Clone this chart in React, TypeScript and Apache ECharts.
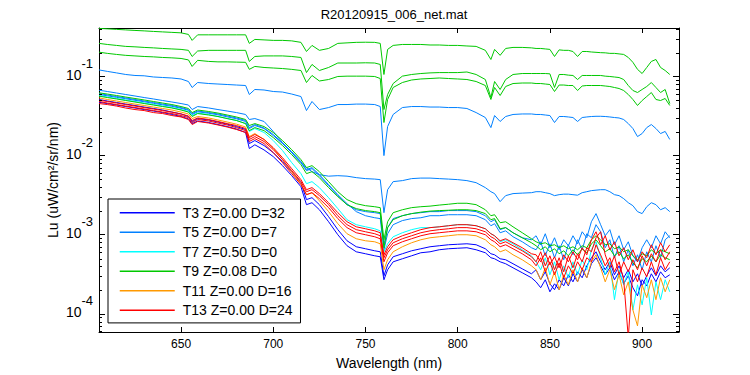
import React, { useEffect, useRef } from "react";
import * as echarts from "echarts";

const FONT = "Liberation Sans, Arial, Helvetica, sans-serif";
const TITLE = "R20120915_006_net.mat";
const X_NAME = "Wavelength (nm)";
const Y_NAME = "Lu (uW/cm²/sr/nm)";
const X_MIN = 605.5;
const X_MAX = 920;
const Y_MIN = 5.9e-5;
const Y_MAX = 0.41;
const X_LABEL_STEP = 50;

const NAMES = ["T3 Z=0.00 D=32", "T5 Z=0.00 D=7", "T7 Z=0.50 D=0", "T9 Z=0.08 D=0", "T11 Z=0.00 D=16", "T13 Z=0.00 D=24"];
const COLORS = ["#0000ff", "#0080ff", "#00ffff", "#00c800", "#ff9900", "#ff0000"];

const MINOR_TICKS = [
  6e-5, 7e-5, 8e-5, 9e-5,
  2e-4, 3e-4, 4e-4, 5e-4, 6e-4, 7e-4, 8e-4, 9e-4,
  2e-3, 3e-3, 4e-3, 5e-3, 6e-3, 7e-3, 8e-3, 9e-3,
  2e-2, 3e-2, 4e-2, 5e-2, 6e-2, 7e-2, 8e-2, 9e-2,
  2e-1, 3e-1, 4e-1,
];

const WAVELENGTHS = [
  605.5, 610, 615, 620, 625, 630, 635, 640, 645, 650,
  654, 656, 659, 665, 670, 675, 680, 685, 687, 690, 695, 700,
  705, 710, 715, 718, 721, 725, 730, 735, 740, 745, 750, 755, 758, 760, 762, 765,
  770, 775, 780, 785, 790, 795, 800, 805, 810, 815,
  818, 820, 823, 826, 830, 835, 840,
  842.5, 845, 847.5, 850, 852.5, 855, 857.5, 860, 862.5, 865, 867.5, 870, 872.5, 875, 877.5,
  880, 882.5, 885, 887.5, 890, 892.5, 895, 897.5, 900, 902.5, 905, 907.5, 910, 912.5, 915,
];

// T3 (blue)
const T3_A = [
  0.0472, 0.0455, 0.0436, 0.0417, 0.0400, 0.0382, 0.0366, 0.0350, 0.0331, 0.0312,
  0.0291, 0.0254, 0.0274, 0.0262, 0.0247, 0.0233, 0.0217, 0.0196, 0.0123, 0.0137, 0.0118, 0.00971,
  0.00747, 0.00558, 0.00405, 0.00240, 0.00254, 0.00207, 0.00146, 0.00100, 0.000726, 0.000609, 0.000575, 0.000542, 0.000527, 0.000270, 0.000361, 0.000455,
  0.000497, 0.000542, 0.000592, 0.000609, 0.000646, 0.000665, 0.000675, 0.000685, 0.000646, 0.000592,
  0.000512, 0.000497, 0.000455, 0.000430, 0.000382, 0.000331, 0.000286,
  0.000254, 0.000214, 0.000270, 0.000190, 0.000240, 0.000202, 0.000286, 0.000226, 0.000321, 0.000254, 0.000361, 0.000286, 0.000430, 0.000512, 0.000405,
  0.000312, 0.000382, 0.000270, 0.000340, 0.000240, 0.000303, 0.000214, 0.000169, 0.000270, 0.000226, 0.000321, 0.000254, 0.000340, 0.000286, 0.000312,
];
const T3_B = [
  0.0512, 0.0490, 0.0469, 0.0448, 0.0430, 0.0411, 0.0394, 0.0377, 0.0355, 0.0336,
  0.0312, 0.0270, 0.0294, 0.0282, 0.0266, 0.0250, 0.0233, 0.0214, 0.0142, 0.0155, 0.0134, 0.0109,
  0.00839, 0.00627, 0.00455, 0.00278, 0.00294, 0.00240, 0.00169, 0.00116, 0.000839, 0.000705, 0.000665, 0.000627, 0.000609, 0.000303, 0.000417, 0.000527,
  0.000575, 0.000627, 0.000665, 0.000705, 0.000726, 0.000747, 0.000758, 0.000769, 0.000747, 0.000665,
  0.000575, 0.000558, 0.000497, 0.000483, 0.000430, 0.000371, 0.000321,
  0.000361, 0.000270, 0.000340, 0.000240, 0.000202, 0.000270, 0.000226, 0.000312, 0.000254, 0.000340, 0.000286, 0.000405, 0.000512, 0.000609, 0.000455,
  0.000361, 0.000455, 0.000312, 0.000405, 0.000286, 0.000361, 0.000254, 0.000321, 0.000226, 0.000303, 0.000382, 0.000303, 0.000405, 0.000340, 0.000382,
];

// T5 (light blue)
const T5_A = [
  0.121, 0.116, 0.111, 0.106, 0.103, 0.102, 0.0986, 0.0971, 0.0957, 0.0930,
  0.0864, 0.0726, 0.0839, 0.0815, 0.0803, 0.0792, 0.0780, 0.0769, 0.0592, 0.0685, 0.0675, 0.0646,
  0.0636, 0.0600, 0.0558, 0.0371, 0.0483, 0.0382, 0.0405, 0.0442, 0.0442, 0.0448, 0.0448, 0.0442, 0.0417, 0.0100, 0.0233, 0.0331,
  0.0405, 0.0417, 0.0417, 0.0411, 0.0411, 0.0405, 0.0405, 0.0394, 0.0350, 0.0303,
  0.0226, 0.0321, 0.0270, 0.0312, 0.0331, 0.0336, 0.0336,
  0.0331, 0.0331, 0.0326, 0.0321, 0.0262, 0.0312, 0.0312, 0.0308, 0.0303, 0.0270, 0.0303, 0.0308, 0.0312, 0.0314, 0.0314,
  0.0312, 0.0308, 0.0303, 0.0299, 0.0286, 0.0254, 0.0220, 0.0174, 0.0190, 0.0226, 0.0247, 0.0220, 0.0190, 0.0202, 0.0160,
];
const T5_B = [
  0.0671, 0.0646, 0.0618, 0.0592, 0.0567, 0.0542, 0.0520, 0.0497, 0.0476, 0.0455,
  0.0436, 0.0382, 0.0417, 0.0400, 0.0382, 0.0366, 0.0350, 0.0331, 0.0286, 0.0294, 0.0270, 0.0202,
  0.0146, 0.0109, 0.00815, 0.00705, 0.00627, 0.00575, 0.00550, 0.00558, 0.00550, 0.00527, 0.00512, 0.00505, 0.00497, 0.00190, 0.00371, 0.00469,
  0.00483, 0.00512, 0.00520, 0.00520, 0.00512, 0.00505, 0.00497, 0.00483, 0.00455, 0.00394,
  0.00350, 0.00331, 0.00262, 0.00312, 0.00331, 0.00336, 0.00340,
  0.00350, 0.00350, 0.00340, 0.00331, 0.00312, 0.00321, 0.00326, 0.00326, 0.00321, 0.00316, 0.00340, 0.00350, 0.00361, 0.00366, 0.00371,
  0.00371, 0.00350, 0.00321, 0.00312, 0.00286, 0.00254, 0.00233, 0.00196, 0.00185, 0.00226, 0.00254, 0.00240, 0.00207, 0.00220, 0.00196,
];
const T5_C = [
  0.0592, 0.0570, 0.0545, 0.0523, 0.0500, 0.0479, 0.0458, 0.0438, 0.0420, 0.0396,
  0.0374, 0.0331, 0.0358, 0.0343, 0.0328, 0.0309, 0.0292, 0.0270, 0.0220, 0.0240, 0.0220, 0.0179,
  0.0142, 0.0109, 0.00815, 0.00646, 0.00685, 0.00558, 0.00417, 0.00312, 0.00240, 0.00207, 0.00196, 0.00190, 0.00185, 0.000747, 0.00123, 0.00160,
  0.00174, 0.00185, 0.00190, 0.00196, 0.00196, 0.00202, 0.00202, 0.00202, 0.00196, 0.00174,
  0.00146, 0.00155, 0.00116, 0.00123, 0.00106, 0.000916, 0.000864,
  0.000971, 0.000747, 0.00103, 0.000685, 0.000916, 0.000646, 0.000864, 0.000726, 0.000971, 0.000769, 0.00109, 0.000916, 0.00146, 0.00185, 0.00134,
  0.000971, 0.00116, 0.000747, 0.000971, 0.000646, 0.000815, 0.000542, 0.000455, 0.000685, 0.000864, 0.000685, 0.000971, 0.000769, 0.00109, 0.000916,
];
const T5_D = [
  0.0609, 0.0584, 0.0558, 0.0535, 0.0512, 0.0490, 0.0469, 0.0448, 0.0430, 0.0405,
  0.0382, 0.0340, 0.0366, 0.0350, 0.0336, 0.0317, 0.0299, 0.0278, 0.0226, 0.0247, 0.0223, 0.0185,
  0.0144, 0.0112, 0.00839, 0.00665, 0.00705, 0.00575, 0.00430, 0.00321, 0.00247, 0.00196, 0.00174, 0.00164, 0.00160, 0.000646, 0.00103, 0.00134,
  0.00151, 0.00160, 0.00164, 0.00174, 0.00174, 0.00179, 0.00179, 0.00179, 0.00174, 0.00155,
  0.00130, 0.00138, 0.00106, 0.00112, 0.000943, 0.000815, 0.000685,
  0.000646, 0.000815, 0.000542, 0.000769, 0.000512, 0.000726, 0.000483, 0.000747, 0.000558, 0.000864, 0.000646, 0.00103, 0.000916, 0.00134, 0.00109,
  0.000685, 0.000864, 0.000512, 0.000726, 0.000455, 0.000646, 0.000405, 0.000558, 0.000361, 0.000609, 0.000455, 0.000726, 0.000512, 0.000864, 0.000971,
];

// T7 (cyan)
const T7_A = [
  0.0575, 0.0550, 0.0527, 0.0505, 0.0483, 0.0462, 0.0442, 0.0423, 0.0405, 0.0382,
  0.0361, 0.0321, 0.0345, 0.0331, 0.0312, 0.0294, 0.0278, 0.0254, 0.0202, 0.0220, 0.0196, 0.0155,
  0.0116, 0.00815, 0.00592, 0.00442, 0.00469, 0.00394, 0.00294, 0.00214, 0.00155, 0.00134, 0.00126, 0.00119, 0.00112, 0.000609, 0.000769, 0.000943,
  0.00106, 0.00116, 0.00123, 0.00123, 0.00126, 0.00130, 0.00134, 0.00134, 0.00130, 0.00119,
  0.00103, 0.000971, 0.000815, 0.000864, 0.000769, 0.000646, 0.000542,
  0.000455, 0.000361, 0.000512, 0.000312, 0.000455, 0.000270, 0.000405, 0.000286, 0.000455, 0.000312, 0.000483, 0.000361, 0.000646, 0.000815, 0.000512,
  0.000312, 0.000455, 0.000151, 0.000361, 0.000233, 0.000340, 0.000112, 0.000233, 0.000130, 0.000286, 0.0000971, 0.000254, 0.000151, 0.000270, 0.000190,
];

// T9 (green)
const T9_A = [
  0.405, 0.400, 0.394, 0.388, 0.382, 0.377, 0.371, 0.366, 0.361, 0.356,
  0.340, 0.286, 0.336, 0.336, 0.336, 0.336, 0.336, 0.336, 0.262, 0.294, 0.290, 0.286,
  0.286, 0.282, 0.270, 0.207, 0.247, 0.214, 0.226, 0.262, 0.266, 0.270, 0.271, 0.270, 0.262, 0.106, 0.220, 0.247,
  0.254, 0.254, 0.254, 0.250, 0.250, 0.247, 0.247, 0.243, 0.240, 0.214,
  0.164, 0.220, 0.185, 0.226, 0.233, 0.233, 0.230,
  0.226, 0.226, 0.223, 0.220, 0.179, 0.217, 0.214, 0.214, 0.207, 0.179, 0.207, 0.207, 0.204, 0.202, 0.200,
  0.199, 0.196, 0.196, 0.193, 0.190, 0.174, 0.151, 0.123, 0.109, 0.130, 0.155, 0.164, 0.130, 0.119, 0.106,
];
const T9_B = [
  0.262, 0.254, 0.247, 0.240, 0.237, 0.233, 0.230, 0.226, 0.223, 0.220,
  0.214, 0.179, 0.210, 0.214, 0.214, 0.214, 0.214, 0.214, 0.155, 0.179, 0.182, 0.182,
  0.182, 0.179, 0.174, 0.112, 0.142, 0.119, 0.130, 0.148, 0.148, 0.148, 0.149, 0.148, 0.142, 0.0382, 0.0592, 0.0815,
  0.101, 0.106, 0.109, 0.111, 0.112, 0.112, 0.112, 0.114, 0.106, 0.0916,
  0.0542, 0.0864, 0.0685, 0.0916, 0.106, 0.109, 0.109,
  0.109, 0.109, 0.109, 0.108, 0.0726, 0.106, 0.106, 0.104, 0.103, 0.0916, 0.103, 0.103, 0.103, 0.103, 0.103,
  0.101, 0.100, 0.0985, 0.0970, 0.0916, 0.0769, 0.0665, 0.0627, 0.0685, 0.0747, 0.0839, 0.0726, 0.0627, 0.0685, 0.0455,
];
const T9_C = [
  0.203, 0.196, 0.190, 0.185, 0.182, 0.179, 0.177, 0.174, 0.172, 0.169,
  0.162, 0.134, 0.160, 0.155, 0.153, 0.153, 0.152, 0.151, 0.123, 0.134, 0.130, 0.128,
  0.126, 0.123, 0.119, 0.0839, 0.103, 0.0877, 0.0916, 0.100, 0.101, 0.101, 0.101, 0.100, 0.0943, 0.0262, 0.0512, 0.0726,
  0.0839, 0.0903, 0.0930, 0.0943, 0.0957, 0.0943, 0.0930, 0.0916, 0.0864, 0.0769,
  0.0512, 0.0726, 0.0575, 0.0747, 0.0815, 0.0827, 0.0827,
  0.0815, 0.0815, 0.0803, 0.0792, 0.0646, 0.0780, 0.0780, 0.0769, 0.0769, 0.0665, 0.0758, 0.0769, 0.0769, 0.0769, 0.0769,
  0.0758, 0.0747, 0.0726, 0.0705, 0.0665, 0.0592, 0.0512, 0.0430, 0.0497, 0.0558, 0.0627, 0.0512, 0.0497, 0.0527, 0.0430,
];
const T9_D = [
  0.0622, 0.0600, 0.0575, 0.0550, 0.0527, 0.0505, 0.0483, 0.0462, 0.0442, 0.0417,
  0.0394, 0.0350, 0.0377, 0.0361, 0.0345, 0.0326, 0.0308, 0.0286, 0.0240, 0.0254, 0.0233, 0.0196,
  0.0155, 0.0119, 0.00890, 0.00705, 0.00747, 0.00627, 0.00469, 0.00350, 0.00278, 0.00247, 0.00233, 0.00226, 0.00220, 0.000864, 0.00146, 0.00190,
  0.00207, 0.00220, 0.00226, 0.00230, 0.00237, 0.00243, 0.00250, 0.00250, 0.00240, 0.00207,
  0.00174, 0.00179, 0.00142, 0.00146, 0.00126, 0.00106, 0.000890,
  0.000815, 0.000769, 0.000792, 0.000726, 0.000747, 0.000685, 0.000726, 0.000665, 0.000705, 0.000646, 0.000726, 0.000685, 0.000864, 0.000971, 0.000864,
  0.000747, 0.000769, 0.000665, 0.000705, 0.000609, 0.000646, 0.000542, 0.000483, 0.000575, 0.000542, 0.000646, 0.000575, 0.000646, 0.000609, 0.000575,
];
const T9_E = [
  0.0564, 0.0542, 0.0520, 0.0497, 0.0476, 0.0455, 0.0436, 0.0417, 0.0400, 0.0377,
  0.0355, 0.0312, 0.0340, 0.0326, 0.0312, 0.0294, 0.0278, 0.0254, 0.0207, 0.0226, 0.0207, 0.0169,
  0.0134, 0.0103, 0.00769, 0.00592, 0.00627, 0.00527, 0.00394, 0.00303, 0.00240, 0.00214, 0.00202, 0.00196, 0.00190, 0.000685, 0.00123, 0.00155,
  0.00174, 0.00185, 0.00193, 0.00199, 0.00202, 0.00204, 0.00207, 0.00207, 0.00202, 0.00185,
  0.00155, 0.00160, 0.00119, 0.00123, 0.00106, 0.000916, 0.000792,
  0.000726, 0.000646, 0.000705, 0.000609, 0.000665, 0.000575, 0.000627, 0.000542, 0.000646, 0.000558, 0.000665, 0.000592, 0.000769, 0.000864, 0.000726,
  0.000609, 0.000665, 0.000542, 0.000609, 0.000497, 0.000558, 0.000442, 0.000382, 0.000497, 0.000455, 0.000542, 0.000455, 0.000558, 0.000512, 0.000483,
];

// T11 (orange)
const T11_A = [
  0.0537, 0.0512, 0.0490, 0.0469, 0.0448, 0.0430, 0.0411, 0.0394, 0.0377, 0.0355,
  0.0336, 0.0294, 0.0312, 0.0299, 0.0282, 0.0266, 0.0250, 0.0230, 0.0174, 0.0190, 0.0160, 0.0123,
  0.00890, 0.00627, 0.00442, 0.00321, 0.00340, 0.00269, 0.00196, 0.00138, 0.00103, 0.000890, 0.000839, 0.000815, 0.000769, 0.000361, 0.000483, 0.000609,
  0.000705, 0.000792, 0.000864, 0.000916, 0.000943, 0.000971, 0.00100, 0.00100, 0.000971, 0.000864,
  0.000747, 0.000705, 0.000609, 0.000646, 0.000558, 0.000483, 0.000405,
  0.000361, 0.000270, 0.000382, 0.000233, 0.000340, 0.000202, 0.000312, 0.000233, 0.000361, 0.000254, 0.000382, 0.000286, 0.000455, 0.000558, 0.000382,
  0.000254, 0.000361, 0.000202, 0.000312, 0.000174, 0.000254, 0.000112, 0.0000705, 0.000233, 0.000160, 0.000270, 0.000151, 0.000286, 0.000190, 0.000270,
];

// T13 (red)
const T13_A = [
  0.0502, 0.0483, 0.0462, 0.0442, 0.0423, 0.0405, 0.0388, 0.0371, 0.0355, 0.0336,
  0.0317, 0.0278, 0.0299, 0.0286, 0.0270, 0.0254, 0.0240, 0.0220, 0.0169, 0.0185, 0.0160, 0.0126,
  0.00943, 0.00685, 0.00497, 0.00371, 0.00394, 0.00331, 0.00254, 0.00190, 0.00146, 0.00126, 0.00119, 0.00112, 0.00106, 0.000558, 0.000705, 0.000864,
  0.000971, 0.00106, 0.00116, 0.00123, 0.00126, 0.00130, 0.00134, 0.00134, 0.00130, 0.00119,
  0.00103, 0.000971, 0.000839, 0.000890, 0.000792, 0.000685, 0.000575,
  0.000558, 0.000455, 0.000592, 0.000417, 0.000527, 0.000382, 0.000558, 0.000455, 0.000609, 0.000483, 0.000685, 0.000558, 0.000864, 0.00109, 0.000747,
  0.000971, 0.000646, 0.000815, 0.000542, 0.000685, 0.000483, 0.000646, 0.000455, 0.000609, 0.000512, 0.000747, 0.000558, 0.000792, 0.000609, 0.000747,
];
const T13_B = [
  0.0455, 0.0442, 0.0423, 0.0399, 0.0382, 0.0371, 0.0350, 0.0340, 0.0321, 0.0308,
  0.0286, 0.0247, 0.0270, 0.0258, 0.0244, 0.0230, 0.0214, 0.0196, 0.0151, 0.0164, 0.0142, 0.0109,
  0.00815, 0.00592, 0.00430, 0.00321, 0.00340, 0.00286, 0.00220, 0.00160, 0.00123, 0.00106, 0.00100, 0.000943, 0.000890, 0.000455, 0.000592, 0.000726,
  0.000815, 0.000890, 0.000971, 0.00103, 0.00106, 0.00109, 0.00112, 0.00112, 0.00109, 0.00100,
  0.000864, 0.000815, 0.000705, 0.000747, 0.000665, 0.000575, 0.000483,
  0.000405, 0.000512, 0.000340, 0.000455, 0.000312, 0.000442, 0.000286, 0.000405, 0.000321, 0.000455, 0.000361, 0.000512, 0.000455, 0.000747, 0.000558,
  0.000405, 0.000512, 0.000340, 0.000455, 0.000270, 0.0000500, 0.000361, 0.000254, 0.000382, 0.000294, 0.000455, 0.000312, 0.000512, 0.000361, 0.000455,
];
const T13_C = [
  0.0483, 0.0462, 0.0442, 0.0423, 0.0405, 0.0388, 0.0371, 0.0355, 0.0340, 0.0321,
  0.0303, 0.0262, 0.0286, 0.0274, 0.0258, 0.0244, 0.0226, 0.0207, 0.0160, 0.0174, 0.0151, 0.0119,
  0.00890, 0.00646, 0.00469, 0.00350, 0.00371, 0.00312, 0.00240, 0.00174, 0.00134, 0.00116, 0.00109, 0.00103, 0.000971, 0.000512, 0.000646, 0.000792,
  0.000890, 0.000971, 0.00106, 0.00112, 0.00116, 0.00119, 0.00123, 0.00123, 0.00119, 0.00109,
  0.000943, 0.000890, 0.000769, 0.000815, 0.000726, 0.000627, 0.000527,
  0.000455, 0.000609, 0.000405, 0.000542, 0.000361, 0.000512, 0.000340, 0.000542, 0.000382, 0.000575, 0.000455, 0.000685, 0.000609, 0.000916, 0.00109,
  0.000558, 0.000382, 0.000542, 0.000312, 0.000455, 0.000340, 0.000483, 0.000361, 0.000542, 0.000405, 0.000575, 0.000455, 0.000646, 0.000483, 0.000609,
];

// drawing order: T3, T5, T7, T9, T11, T13
const GROUPS: number[][][] = [
  [T3_A, T3_B],
  [T5_A, T5_B, T5_C, T5_D],
  [T7_A],
  [T9_A, T9_B, T9_C, T9_D, T9_E],
  [T11_A],
  [T13_A, T13_B, T13_C],
];

const isDecade = (v: number) => {
  const e = Math.log10(v);
  return Math.abs(e - Math.round(e)) < 1e-6;
};
const isLabelStep = (v: number) => Math.abs(v / X_LABEL_STEP - Math.round(v / X_LABEL_STEP)) < 1e-6;

export default function App() {
  const ref = useRef<HTMLDivElement>(null);
  useEffect(() => {
    if (!ref.current) return;
    const chart = echarts.init(ref.current, undefined, { renderer: "svg" });

    const lineSeries: any[] = [];
    GROUPS.forEach((group, gi) => {
      group.forEach((values) => {
        lineSeries.push({
          type: "line",
          name: NAMES[gi],
          data: WAVELENGTHS.map((w, i) => [w, values[i]]),
          showSymbol: false,
          symbol: "none",
          silent: true,
          clip: true,
          lineStyle: { color: COLORS[gi], width: 1 },
          itemStyle: { color: COLORS[gi] },
          emphasis: { disabled: true },
        });
      });
    });

    const minorTickSeries = {
      type: "custom",
      name: "minor-ticks",
      silent: true,
      clip: false,
      z: 10,
      data: MINOR_TICKS.map((v) => [X_MIN, v]),
      encode: { x: 0, y: 1 },
      renderItem: (params: any, api: any) => {
        const p = api.coord([X_MIN, api.value(1)]);
        const cs = params.coordSys;
        const y = Math.round(p[1]) + 0.5;
        return {
          type: "group",
          children: [
            { type: "line", shape: { x1: cs.x, y1: y, x2: cs.x + 3, y2: y }, style: { stroke: "#000", lineWidth: 1 } },
            { type: "line", shape: { x1: cs.x + cs.width - 3, y1: y, x2: cs.x + cs.width, y2: y }, style: { stroke: "#000", lineWidth: 1 } },
          ],
        };
      },
    };

    const axisLine = { show: true, lineStyle: { color: "#000", width: 1 } };

    chart.setOption({
      animation: false,
      backgroundColor: "#fff",
      title: {
        text: TITLE,
        left: 389,
        top: 3,
        textAlign: "center",
        textStyle: { fontSize: 13, fontWeight: "normal", fontFamily: FONT, color: "#000" },
      },
      graphic: [
        {
          type: "text",
          x: 53,
          y: 180,
          rotation: Math.PI / 2,
          silent: true,
          style: {
            text: Y_NAME,
            font: "14px " + FONT,
            fill: "#000",
            textAlign: "center",
            textVerticalAlign: "middle",
          },
        },
      ],
      grid: { left: 99, right: 71, top: 28, bottom: 43 },
      legend: {
        data: NAMES,
        orient: "vertical",
        left: 108,
        top: 199,
        itemWidth: 55,
        itemHeight: 14,
        itemGap: 5.5,
        padding: [6.7, 8, 5.7, 11],
        borderColor: "#000",
        borderWidth: 1,
        backgroundColor: "#fff",
        selectedMode: false,
        itemStyle: { opacity: 0, borderWidth: 0 },
        lineStyle: { width: 1.5 },
        textStyle: { fontSize: 14, fontFamily: FONT, color: "#000", lineHeight: 14, padding: [0, 0, 0, 3] },
      },
      xAxis: [
        {
          type: "value",
          position: "bottom",
          min: X_MIN,
          max: X_MAX,
          splitNumber: 6,
          axisLine,
          axisTick: { inside: true, length: 5, lineStyle: { color: "#000" } },
          axisLabel: {
            formatter: (v: number) => (isLabelStep(v) ? String(Math.round(v)) : ""),
            color: "#000",
            fontSize: 12,
            fontFamily: FONT,
            margin: 6,
          },
          splitLine: { show: false },
          name: X_NAME,
          nameLocation: "middle",
          nameGap: 24,
          nameTextStyle: { fontSize: 14, fontFamily: FONT, color: "#000" },
        },
        {
          type: "value",
          position: "top",
          min: X_MIN,
          max: X_MAX,
          splitNumber: 6,
          axisLine,
          axisTick: { inside: true, length: 5, lineStyle: { color: "#000" } },
          axisLabel: { show: false },
          splitLine: { show: false },
        },
      ],
      yAxis: [
        {
          type: "log",
          logBase: 10,
          position: "left",
          min: Y_MIN,
          max: Y_MAX,
          axisLine,
          axisTick: { inside: true, length: 6, lineStyle: { color: "#000" } },
          axisLabel: {
            margin: 6,
            formatter: (v: number) => {
              if (!isDecade(v)) return "";
              return "{b|10}{s|" + Math.round(Math.log10(v)) + "}";
            },
            rich: {
              b: { fontSize: 14, fontFamily: FONT, color: "#000", padding: [0, 0, 14, 0], verticalAlign: "bottom" },
              s: { fontSize: 13, fontFamily: FONT, color: "#000", lineHeight: 39, verticalAlign: "top" },
            },
          },
          splitLine: { show: false },
        },
        {
          type: "log",
          logBase: 10,
          position: "right",
          min: Y_MIN,
          max: Y_MAX,
          axisLine,
          axisTick: { inside: true, length: 6, lineStyle: { color: "#000" } },
          axisLabel: { show: false },
          splitLine: { show: false },
        },
      ],
      series: [...lineSeries, minorTickSeries],
    });

    return () => chart.dispose();
  }, []);

  return (
    <div
      ref={ref}
      style={{ position: "fixed", left: 0, top: 0, width: 750, height: 375, background: "#fff" }}
    />
  );
}
